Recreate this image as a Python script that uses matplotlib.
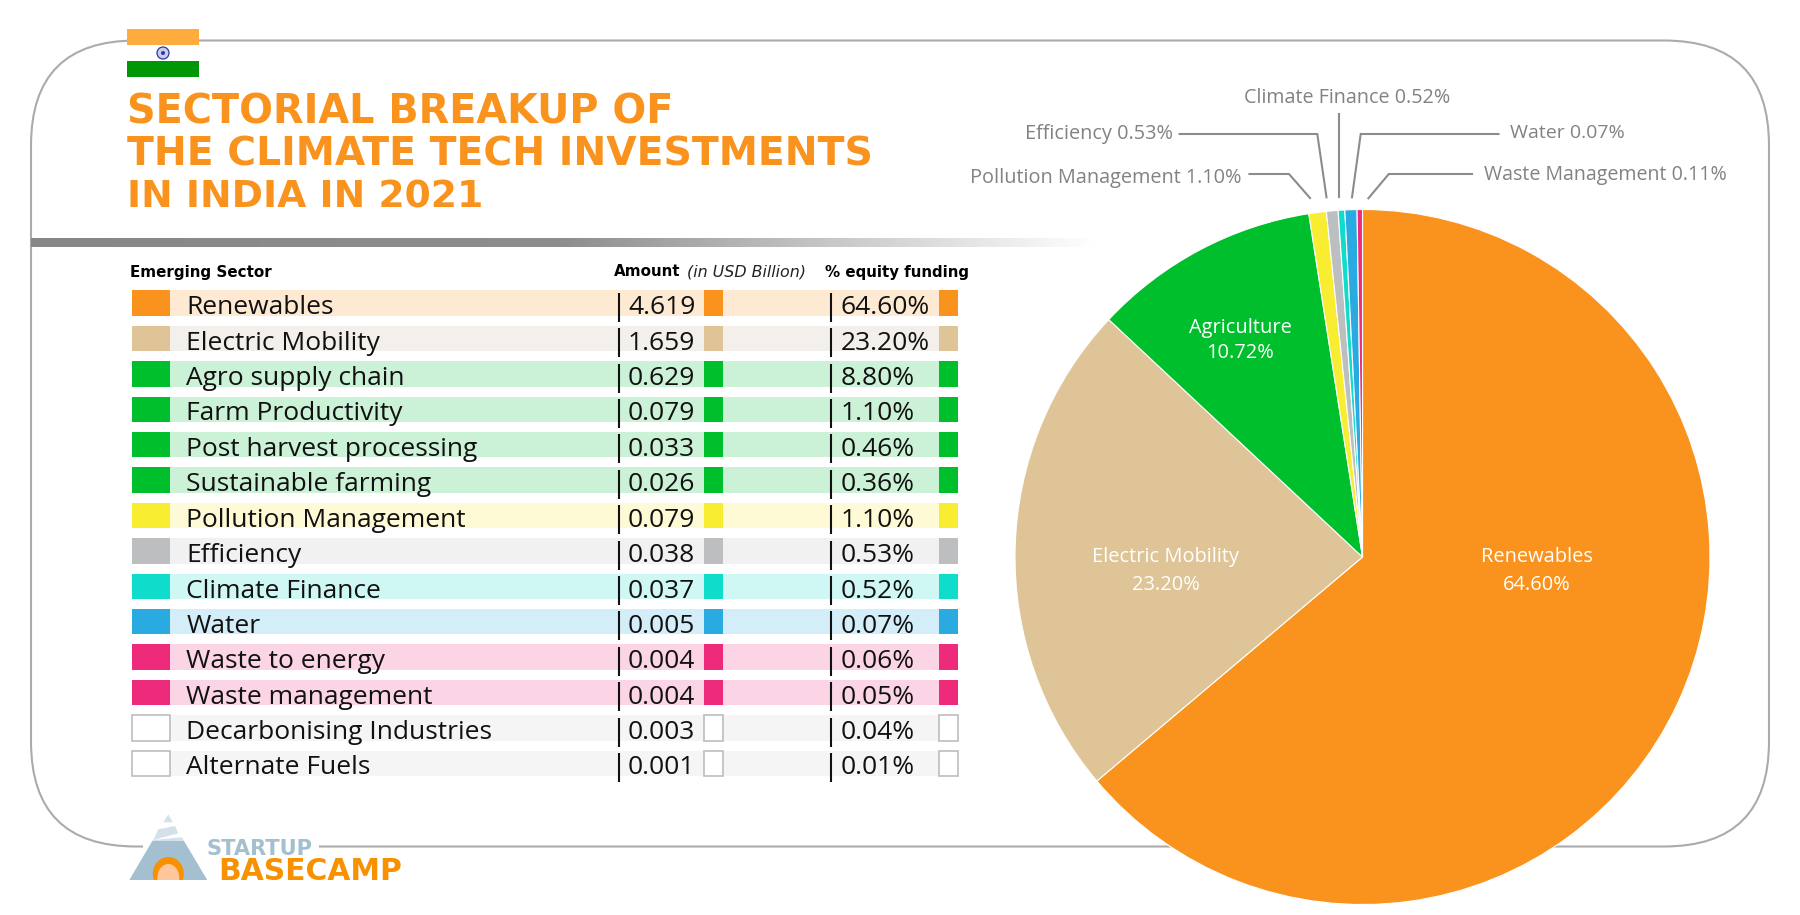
import matplotlib
matplotlib.use("Agg")
import matplotlib.pyplot as plt
import numpy as np
from matplotlib.patches import Rectangle, FancyBboxPatch, Polygon, Circle, Ellipse

# ---------- data ----------
sectors = ["Renewables", "Electric Mobility", "Agro supply chain", "Farm Productivity",
           "Post harvest processing", "Sustainable farming", "Pollution Management",
           "Efficiency", "Climate Finance", "Water", "Waste to energy", "Waste management",
           "Decarbonising Industries", "Alternate Fuels"]
amounts = ["4.619", "1.659", "0.629", "0.079", "0.033", "0.026", "0.079",
           "0.038", "0.037", "0.005", "0.004", "0.004", "0.003", "0.001"]
equity = ["64.60%", "23.20%", "8.80%", "1.10%", "0.46%", "0.36%", "1.10%",
          "0.53%", "0.52%", "0.07%", "0.06%", "0.05%", "0.04%", "0.01%"]
swatch_colors = ["#F9931E", "#DFC497", "#00BF2D", "#00BF2D", "#00BF2D", "#00BF2D", "#F9ED32",
                 "#BCBEC0", "#10DCCB", "#29ABE2", "#EE2A7B", "#EE2A7B", "#FFFFFF", "#FFFFFF"]
band_colors = ["#FEE9D3", "#F3EFEA", "#CBF1D6", "#CBF1D6", "#CBF1D6", "#CBF1D6", "#FEFAD6",
               "#F1F1F2", "#CFF7F4", "#D4EEF9", "#FBD4E5", "#FBD4E5", "#F5F5F5", "#F5F5F5"]

# pie shares as drawn (measured from the slice boundaries)
pie_names = ["Renewables", "Electric Mobility", "Agriculture", "Pollution Management",
             "Efficiency", "Climate Finance", "Water", "Waste Management"]
pie_shares = [63.85, 23.12, 10.56, 0.81, 0.54, 0.31, 0.56, 0.25]
pie_colors = ["#F9931E", "#DFC497", "#00BF2D", "#F9ED32", "#BCBEC0", "#10DCCB", "#29ABE2", "#EE2A7B"]

W, H = 1800, 915
BODY = "Open Sans"
HEAD = "DejaVu Sans"
ORANGE = "#F9931E"
GREY = "#808285"

fig = plt.figure(figsize=(W / 100, H / 100), dpi=100, facecolor="white")
ax = fig.add_axes([0, 0, 1, 1])
ax.set_xlim(0, W)
ax.set_ylim(H, 0)
ax.axis("off")

# rounded frame
ax.add_patch(FancyBboxPatch((31 + 105, 40.5 + 105), 1769 - 31 - 210, 846.5 - 40.5 - 210,
                            boxstyle="round,pad=105,rounding_size=105",
                            fc="none", ec="#ABABAB", lw=1.5, zorder=1))

# gradient rule
grad = np.linspace(0, 1, 512).reshape(1, -1)
ax.imshow(grad, extent=(31, 1096, 246.7, 238), aspect="auto", zorder=2,
          cmap=matplotlib.colors.LinearSegmentedColormap.from_list("g", ["#878787", "#8E8E8E", "#FFFFFF"]))
ax.set_xlim(0, W)
ax.set_ylim(H, 0)

# flag
ax.add_patch(Rectangle((127, 29), 72, 48, fc="white", ec="none", zorder=3))
ax.add_patch(Rectangle((127, 29), 72, 16, fc="#FFAC3E", ec="none", zorder=3))
ax.add_patch(Rectangle((127, 61), 72, 16, fc="#009706", ec="none", zorder=3))
ax.add_patch(Circle((163, 53), 6, fc="#C9CDEB", ec="#2B3A9E", lw=0.9, zorder=4))
ax.add_patch(Circle((163, 53), 2, fc="#2B3A9E", ec="none", zorder=5))

# title
for line, base, fs in zip(["SECTORIAL BREAKUP OF", "THE CLIMATE TECH INVESTMENTS", "IN INDIA IN 2021"],
                          [123, 165, 207], [28.6, 28.3, 27.2]):
    ax.text(127, base, line, color=ORANGE, fontsize=fs, fontweight="bold", family=HEAD,
            ha="left", va="baseline", zorder=5)

# header
ax.text(130, 276.5, "Emerging Sector", fontsize=10.9, fontweight="bold", family=HEAD, va="baseline")
ax.text(614, 276.5, "Amount", fontsize=10.9, fontweight="bold", family=HEAD, va="baseline")
ax.text(687, 276.5, "(in USD Billion)", fontsize=11.4, style="italic", family=HEAD, va="baseline", color="#222222")
ax.text(825, 276.5, "% equity funding", fontsize=10.8, fontweight="bold", family=HEAD, va="baseline")

# table rows
top, step, rh = 290.3, 35.4, 25.5
for i, (s, a, e, c, b) in enumerate(zip(sectors, amounts, equity, swatch_colors, band_colors)):
    y = top + i * step
    ax.add_patch(Rectangle((132, y), 826, rh, fc=b, ec="none", zorder=2))
    edge = "#BDBDBD" if c == "#FFFFFF" else "none"
    for x0, w in [(132, 38), (703.5, 19), (938.5, 19.5)]:
        ax.add_patch(Rectangle((x0, y), w, rh, fc=c, ec=edge, lw=1.2, zorder=3))
    for xr in (618.5, 831):
        ax.plot([xr, xr], [y + 2.5, y + 31.5], color="#111111", lw=1.5, solid_capstyle="butt", zorder=4)
    ax.text(186.5, y + 24, s, fontsize=19, family=BODY, color="#111111", va="baseline", zorder=5)
    ax.text(628, y + 24, a, fontsize=19, family=BODY, color="#111111", va="baseline", zorder=5)
    ax.text(841, y + 24, e, fontsize=19, family=BODY, color="#111111", va="baseline", zorder=5)

# pie
cx, cy, R = 1362.5, 557, 347.5
pax = fig.add_axes([(cx - R) / W, 1 - (cy + R) / H, 2 * R / W, 2 * R / H])
pax.pie(pie_shares, colors=pie_colors, startangle=90, counterclock=False, radius=1,
        wedgeprops=dict(edgecolor="white", linewidth=0.8))
pax.set_xlim(-1, 1)
pax.set_ylim(-1, 1)
pax.patch.set_alpha(0)

# overlay for pie labels
ov = fig.add_axes([0, 0, 1, 1])
ov.set_xlim(0, W)
ov.set_ylim(H, 0)
ov.axis("off")
ov.patch.set_alpha(0)
for name, val, x, y1, y2 in [("Renewables", "64.60%", 1537, 562, 589.5),
                             ("Electric Mobility", "23.20%", 1166, 562, 589.5),
                             ("Agriculture", "10.72%", 1240, 332.5, 358.5)]:
    ov.text(x, y1, name, color="white", fontsize=14.4, family=BODY, ha="center", va="baseline")
    ov.text(x, y2, val, color="white", fontsize=14.4, family=BODY, ha="center", va="baseline")

for txt, x, base, fs in [("Climate Finance 0.52%", 1244, 102.7, 14.2),
                         ("Efficiency 0.53%", 1025, 138.5, 14.3),
                         ("Pollution Management 1.10%", 969.5, 183, 14.3),
                         ("Water 0.07%", 1510, 138.5, 14.0),
                         ("Waste Management 0.11%", 1484.5, 180, 14.1)]:
    ov.text(x, base, txt, color=GREY, fontsize=fs, family=BODY, ha="left", va="baseline")

for xs, ys in [([1249.5, 1289, 1310], [174, 174, 198]),
               ([1179.6, 1317.3, 1326.5], [134, 134, 197.3]),
               ([1339.3, 1339.3], [114.3, 197.3]),
               ([1498.5, 1360.7, 1352], [134, 134, 197.3]),
               ([1472, 1388.8, 1368.4], [174, 174, 198.3])]:
    ov.plot(xs, ys, color="#8A8C8E", lw=1.5, solid_joinstyle="miter")

# logo
ax.add_patch(Rectangle((143, 835), 176, 50, fc="white", ec="none", zorder=6))
ax.add_patch(Polygon([(129.3, 880), (207.3, 880), (184, 841), (152.3, 841)], fc="#A3BFD0", ec="none", zorder=7))
ax.add_patch(Polygon([(168.3, 814.3), (163.3, 822.3), (172.7, 822.3)], fc="#D3E1EA", ec="none", zorder=7))
ax.add_patch(Polygon([(158.3, 829.3), (175, 826), (178.3, 833.3), (153.3, 840)], fc="#D3E1EA", ec="none", zorder=7))
ax.add_patch(Polygon([(153, 840), (182, 837.3), (184, 841), (152.3, 841)], fc="#D3E1EA", ec="none", zorder=7))
arch_clip = Rectangle((125, 800), 90, 80, transform=ax.transData)
arch = Ellipse((168.3, 874), 31, 34, fc="#F79100", ec="none", zorder=8)
ax.add_patch(arch); arch.set_clip_path(arch_clip)
core = Ellipse((168.3, 878), 22, 28, fc="#FDC79B", ec="none", zorder=9)
ax.add_patch(core); core.set_clip_path(arch_clip)
ax.text(207, 855, "STARTUP", color="#A3BFD0", fontsize=15.1, fontweight="bold", family=HEAD, va="baseline", zorder=8)
ax.text(218, 880.5, "BASECAMP", color="#F79100", fontsize=21.4, fontweight="bold", family=HEAD, va="baseline", zorder=8)

fig.savefig("out.png", dpi=100, facecolor="white")
